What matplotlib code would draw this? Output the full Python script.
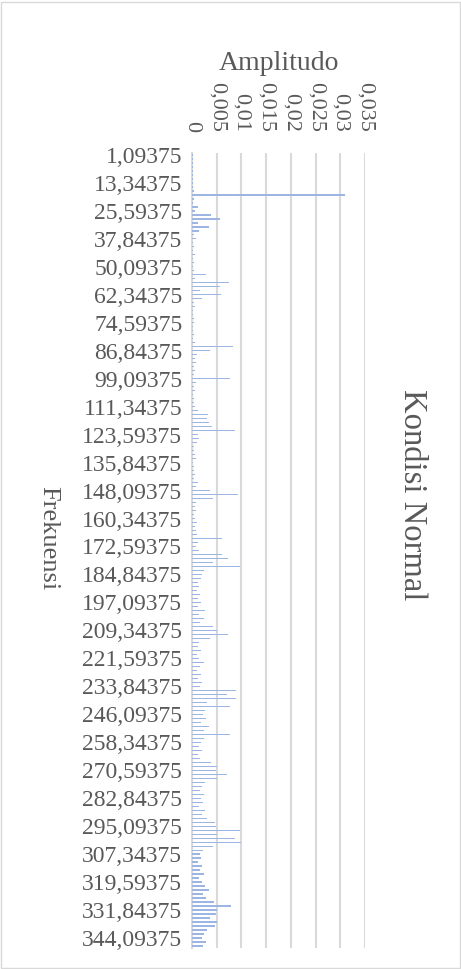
import numpy as np
import matplotlib
matplotlib.use("Agg")
import matplotlib.pyplot as plt
from matplotlib.patches import Rectangle

plt.rcParams['font.family'] = ['Liberation Serif', 'DejaVu Serif']

# frekuensi (Hz), step 1.75 starting at 1.09375
f0 = 1.09375
df = 1.75
amplitudo = [
    0.0003, 0.0002, 0.0002, 0.0003, 0.0002, 0.0002, 0.0003, 0.0002, 0.0003, 0.0004,
    0.0310, 0.0004, 0.0003, 0.0013, 0.0006, 0.0038, 0.0056, 0.0012, 0.0035, 0.0014,
    0.0004, 0.0008, 0.0003, 0.0005, 0.0002, 0.0006, 0.0003, 0.0004, 0.0002, 0.0005,
    0.0028, 0.0006, 0.0075, 0.0056, 0.0016, 0.0058, 0.0020, 0.0004, 0.0006, 0.0003,
    0.0002, 0.0004, 0.0005, 0.0003, 0.0002, 0.0004, 0.0003, 0.0006, 0.0083, 0.0036,
    0.0010, 0.0006, 0.0008, 0.0004, 0.0007, 0.0005, 0.0077, 0.0009, 0.0004, 0.0007,
    0.0003, 0.0005, 0.0004, 0.0006, 0.0012, 0.0033, 0.0030, 0.0035, 0.0040, 0.0087,
    0.0012, 0.0015, 0.0010, 0.0005, 0.0004, 0.0006, 0.0008, 0.0003, 0.0005, 0.0004,
    0.0006, 0.0005, 0.0012, 0.0008, 0.0037, 0.0093, 0.0043, 0.0008, 0.0006, 0.0009,
    0.0005, 0.0007, 0.0010, 0.0006, 0.0008, 0.0011, 0.0060, 0.0012, 0.0009, 0.0014,
    0.0060, 0.0073, 0.0043, 0.0097, 0.0024, 0.0020, 0.0018, 0.0012, 0.0015, 0.0010,
    0.0016, 0.0013, 0.0019, 0.0012, 0.0026, 0.0014, 0.0024, 0.0017, 0.0043, 0.0050,
    0.0072, 0.0037, 0.0015, 0.0012, 0.0018, 0.0010, 0.0014, 0.0024, 0.0016, 0.0011,
    0.0019, 0.0013, 0.0021, 0.0016, 0.0090, 0.0070, 0.0089, 0.0030, 0.0077, 0.0026,
    0.0022, 0.0028, 0.0019, 0.0035, 0.0024, 0.0077, 0.0025, 0.0018, 0.0015, 0.0020,
    0.0013, 0.0017, 0.0039, 0.0050, 0.0049, 0.0070, 0.0050, 0.0026, 0.0021, 0.0016,
    0.0024, 0.0019, 0.0022, 0.0014, 0.0027, 0.0020, 0.0031, 0.0047, 0.0048, 0.0098,
    0.0050, 0.0087, 0.0100, 0.0043, 0.0022, 0.0016, 0.0019, 0.0013, 0.0021, 0.0017,
    0.0024, 0.0015, 0.0020, 0.0026, 0.0035, 0.0022, 0.0028, 0.0045, 0.0079, 0.0050,
    0.0049, 0.0036, 0.0050, 0.0046, 0.0030, 0.0025, 0.0020, 0.0028, 0.0022,
]
frekuensi = f0 + df * np.arange(len(amplitudo))
amp_ticks = [0, 0.005, 0.01, 0.015, 0.02, 0.025, 0.03, 0.035]

teks = '#595959'
grid = '#D9D9D9'

fig = plt.figure(figsize=(4.61, 9.69), dpi=100)
ax = fig.add_axes([0.4165, 0.0217, 0.3753, 0.8204])

ax.barh(frekuensi, amplitudo, height=df * 0.3, color='#9DB5E2', linewidth=0, zorder=3)

ax.set_xlim(0, 0.035)
ax.set_ylim(frekuensi[-1] + df / 2, frekuensi[0] - df / 2)

ax.xaxis.tick_top()
ax.xaxis.set_label_position('top')
ax.set_xticks(amp_ticks)
ax.set_xticklabels([('%g' % v).replace('.', ',') for v in amp_ticks],
                   rotation=-90, fontsize=16, color=teks, va='bottom', ha='center')
ax.tick_params(axis='x', length=0, pad=15)

yt = frekuensi[::7]
ax.set_yticks(yt)
ax.set_yticklabels([('%.5f' % v).replace('.', ',') for v in yt], fontsize=17, color=teks)
ax.tick_params(axis='y', length=0, pad=7)

ax.grid(axis='x', color=grid, linewidth=1.5, zorder=0)
for s in ['top', 'right', 'bottom']:
    ax.spines[s].set_visible(False)
ax.spines['left'].set_color(grid)
ax.spines['left'].set_linewidth(1.5)

ax.set_xlabel('Amplitudo', fontsize=20, color=teks, labelpad=9)
fig.text(0.104, 0.445, 'Frekuensi', rotation=-90, fontsize=19, color=teks,
         ha='center', va='center')
fig.text(0.894, 0.489, 'Kondisi Normal', rotation=-90, fontsize=23.5, color=teks,
         ha='center', va='center')

fig.add_artist(Rectangle((0.002, 0.001), 0.995, 0.997, transform=fig.transFigure,
                         fill=False, edgecolor='#D9D9D9', linewidth=1))

fig.savefig('out.png', dpi=100)
